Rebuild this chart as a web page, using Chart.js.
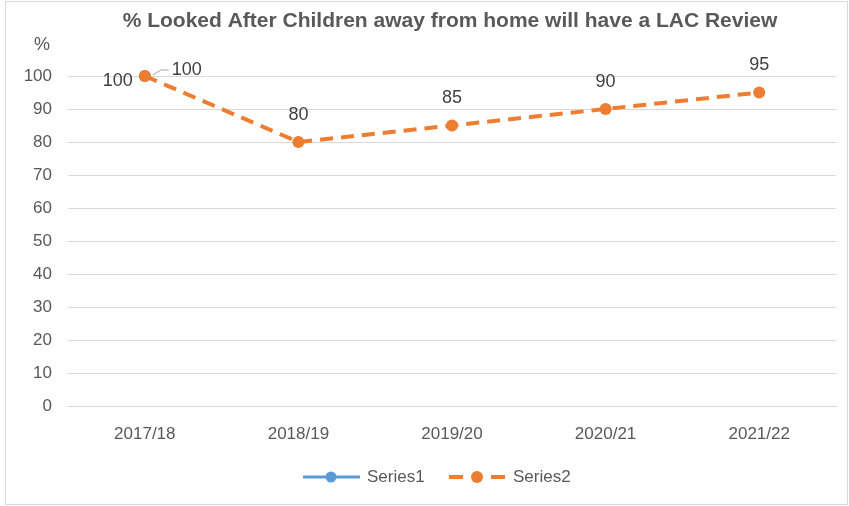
<!DOCTYPE html>
<html>
<head>
<meta charset="utf-8">
<script src="https://cdn.jsdelivr.net/npm/chart.js@4"></script>
<style>
  html, body { margin: 0; padding: 0; background: #fff; }
  #wrap { width: 849px; height: 506px; position: relative; }
</style>
</head>
<body>
<div id="wrap"><canvas id="lac-chart"></canvas></div>
<script>
// chart data
var years = ['2017/18', '2018/19', '2019/20', '2020/21', '2021/22'];
var series1 = [100, null, null, null, null];
var series2 = [100, 80, 85, 90, 95];
var yTicks = [0, 10, 20, 30, 40, 50, 60, 70, 80, 90, 100];

var FONT = '"Liberation Sans", Arial, sans-serif';
var TEXT = '#595959';
var BLUE = '#5b9bd5';
var ORANGE = '#ed7d31';

// title, "%" axis label, data labels, legend and outer border
var extras = {
    id: 'extras',
    afterDraw: function (chart) {
        var ctx = chart.ctx;
        ctx.save();

        ctx.strokeStyle = '#d9d9d9';
        ctx.lineWidth = 1;
        ctx.strokeRect(5.5, 1.5, 842, 503);

        ctx.fillStyle = TEXT;
        ctx.textAlign = 'center';
        ctx.textBaseline = 'middle';
        ctx.font = 'bold 21px ' + FONT;
        ctx.fillText('% Looked After Children away from home will have a LAC Review', 450, 21);

        ctx.font = '18px ' + FONT;
        ctx.fillText('%', 42, 45);

        // data labels
        ctx.font = '18px ' + FONT;
        ctx.fillStyle = '#404040';
        var m1 = chart.getDatasetMeta(0);
        series1.forEach(function (v, i) {
            if (v === null) return;
            var p = m1.data[i];
            ctx.textAlign = 'right';
            ctx.fillText(String(v), p.x - 12, p.y + 5);
        });
        var m2 = chart.getDatasetMeta(1);
        series2.forEach(function (v, i) {
            var p = m2.data[i];
            if (i === 0) {
                ctx.strokeStyle = '#a6a6a6';
                ctx.lineWidth = 1;
                ctx.beginPath();
                ctx.moveTo(p.x + 8, p.y - 1);
                ctx.lineTo(p.x + 16, p.y - 6);
                ctx.lineTo(p.x + 24, p.y - 6);
                ctx.stroke();
                ctx.textAlign = 'left';
                ctx.fillText(String(v), p.x + 27, p.y - 6);
            } else {
                ctx.textAlign = 'center';
                ctx.fillText(String(v), p.x, p.y - 27);
            }
        });

        // legend
        var ly = 477;
        ctx.lineWidth = 3;
        ctx.strokeStyle = BLUE;
        ctx.beginPath();
        ctx.moveTo(303, ly);
        ctx.lineTo(360, ly);
        ctx.stroke();
        ctx.fillStyle = BLUE;
        ctx.beginPath();
        ctx.arc(331, ly, 5.5, 0, Math.PI * 2);
        ctx.fill();

        ctx.lineWidth = 4;
        ctx.strokeStyle = ORANGE;
        ctx.beginPath();
        ctx.moveTo(449, ly);
        ctx.lineTo(463, ly);
        ctx.moveTo(491, ly);
        ctx.lineTo(505, ly);
        ctx.stroke();
        ctx.fillStyle = ORANGE;
        ctx.beginPath();
        ctx.arc(477, ly, 6, 0, Math.PI * 2);
        ctx.fill();

        ctx.fillStyle = TEXT;
        ctx.textAlign = 'left';
        ctx.font = '17px ' + FONT;
        ctx.fillText('Series1', 367, ly);
        ctx.fillText('Series2', 513, ly);

        ctx.restore();
    }
};

new Chart(document.getElementById('lac-chart'), {
    type: 'line',
    data: {
        labels: years,
        datasets: [{
            label: 'Series1',
            data: series1,
            borderColor: BLUE,
            backgroundColor: BLUE,
            borderWidth: 3,
            pointRadius: 6,
            pointBorderWidth: 0,
            clip: false,
            order: 2
        }, {
            label: 'Series2',
            data: series2,
            borderColor: ORANGE,
            backgroundColor: ORANGE,
            borderWidth: 4,
            borderDash: [13, 8],
            pointRadius: 6,
            pointBorderWidth: 0,
            clip: false,
            order: 1
        }]
    },
    options: {
        responsive: true,
        maintainAspectRatio: false,
        animation: false,
        layout: { padding: { left: 0, top: 76, right: 13, bottom: 0 } },
        plugins: {
            legend: { display: false },
            title: { display: false },
            tooltip: { enabled: false }
        },
        scales: {
            x: {
                offset: true,
                grid: { display: false, drawTicks: false },
                border: { color: '#d9d9d9' },
                ticks: { color: TEXT, font: { family: FONT, size: 17 }, padding: 18 },
                afterFit: function (s) { s.height = 100; }
            },
            y: {
                min: 0,
                max: 100,
                afterBuildTicks: function (s) { s.ticks = yTicks.map(function (v) { return { value: v }; }); },
                grid: { color: '#d9d9d9', drawTicks: false },
                border: { display: false },
                ticks: { color: TEXT, font: { family: FONT, size: 17 }, padding: 16 },
                afterFit: function (s) { s.width = 68; }
            }
        }
    },
    plugins: [extras]
});
</script>
</body>
</html>
